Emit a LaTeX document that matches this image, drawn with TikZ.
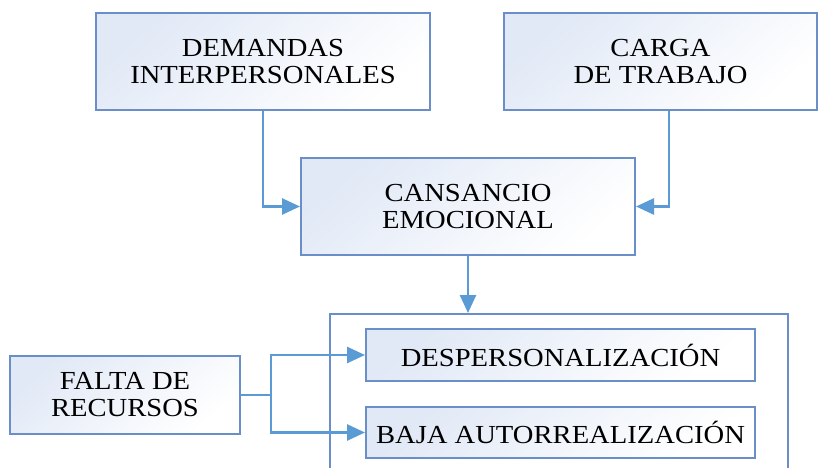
\documentclass[tikz,border=0pt]{standalone}
\usepackage{fontspec}
\setmainfont{Liberation Serif}[FakeStretch=1.1]
\usetikzlibrary{arrows.meta,shadings}
\definecolor{boxline}{HTML}{6A8FC8}
\definecolor{arrowc}{HTML}{5B9BD5}
\definecolor{boxfill}{HTML}{E1E9F6}
\tikzset{
  box/.style={draw=boxline, line width=2pt, top color=boxfill, bottom color=white, shading angle=40,
    align=center, inner sep=0pt, font=\fontsize{26}{27}\selectfont},
  conn/.style={draw=arrowc, line width=2.6pt},
  arr/.style={conn, -{Triangle[length=18pt,width=16pt]}}
}
\begin{document}
\begin{tikzpicture}[x=1pt,y=-1pt]
\useasboundingbox (0,0) rectangle (823,468);
\fill[white] (0,0) rectangle (823,468);
\node[box, minimum width=334pt, minimum height=97pt] (dem) at (263,61.5) {DEMANDAS\\INTERPERSONALES};
\node[box, minimum width=313pt, minimum height=97pt] (carga) at (660.5,61.5) {CARGA\\DE TRABAJO};
\node[box, minimum width=334pt, minimum height=97pt] (cans) at (468,206.5) {CANSANCIO\\EMOCIONAL};
\node[draw=boxline, line width=2pt, minimum width=458pt, minimum height=170pt, inner sep=0pt] (outer) at (559,399) {};
\node[box, minimum width=389pt, minimum height=52pt] (desp) at (560.5,355) {DESPERSONALIZACIÓN};
\node[box, minimum width=389pt, minimum height=51pt] (baja) at (560.5,432.5) {BAJA AUTORREALIZACIÓN};
\node[box, minimum width=230pt, minimum height=78pt] (falta) at (125,395) {FALTA DE\\RECURSOS};
\coordinate (j) at (271,395);
\draw[arr] (dem.south) |- (cans.west);
\draw[arr] ([xshift=8.5pt]carga.south) |- (cans.east);
\draw[arr] (cans.south) -- (cans.south |- outer.north);
\draw[conn] (falta.east) -- (j);
\draw[arr] (j) |- (desp.west);
\draw[arr] (j) |- (baja.west);
\end{tikzpicture}
\end{document}
